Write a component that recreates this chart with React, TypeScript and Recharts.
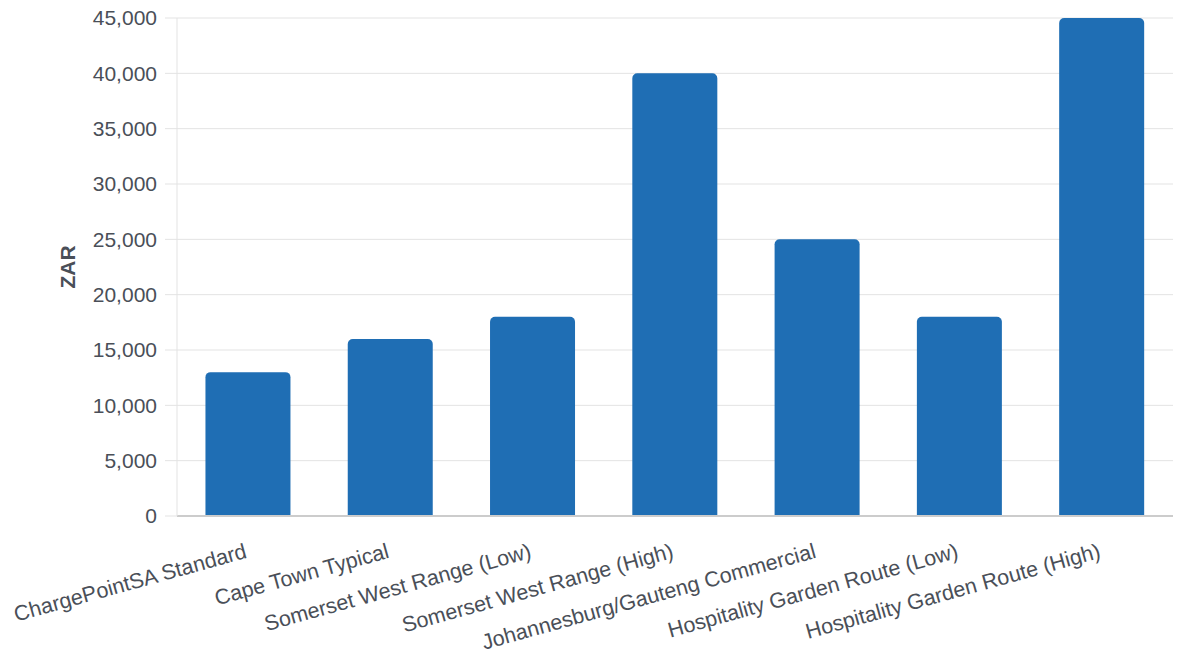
import React from 'react';
import { BarChart, Bar, XAxis, YAxis, CartesianGrid } from 'recharts';

const categories = [
  'ChargePointSA Standard',
  'Cape Town Typical',
  'Somerset West Range (Low)',
  'Somerset West Range (High)',
  'Johannesburg/Gauteng Commercial',
  'Hospitality Garden Route (Low)',
  'Hospitality Garden Route (High)',
];
const values = [13000, 16000, 18000, 40000, 25000, 18000, 45000];
const yTicks = [0, 5000, 10000, 15000, 20000, 25000, 30000, 35000, 40000, 45000];

const data = categories.map((name, i) => ({ name, value: values[i] }));

const FONT = 'Liberation Sans, Arial, sans-serif';
const TEXT = '#4a4f58';

const XTick = (props: any) => {
  const { x, y, payload } = props;
  return (
    <g transform={`translate(${x - 4},${y + 20})`}>
      <text
        x={0}
        y={0}
        dy={14}
        textAnchor="end"
        fill={TEXT}
        fontSize={21.5}
        fontFamily={FONT}
        transform="rotate(-15.5)"
      >
        {payload.value}
      </text>
    </g>
  );
};

export default function App() {
  return (
    <div style={{ position: 'absolute', left: 0, top: 0, width: 1200, height: 667, background: '#fff' }}>
      <BarChart
        width={1200}
        height={667}
        data={data}
        margin={{ top: 18, right: 27, left: 0, bottom: 0 }}
        barCategoryGap="20%"
      >
        <CartesianGrid vertical={false} stroke="#e3e3e3" />
        <XAxis
          dataKey="name"
          height={151}
          interval={0}
          tick={<XTick />}
          tickLine={false}
          axisLine={{ stroke: '#cccccc', strokeWidth: 2 }}
        />
        <YAxis
          width={177}
          domain={[0, 45000]}
          ticks={yTicks}
          tickFormatter={(v: number) => v.toLocaleString('en-US')}
          tick={{ fill: TEXT, fontSize: 21, fontFamily: FONT }}
          tickSize={12}
          tickMargin={8}
          tickLine={{ stroke: '#e3e3e3' }}
          axisLine={{ stroke: '#e3e3e3' }}
          label={{
            value: 'ZAR',
            angle: -90,
            position: 'insideLeft',
            offset: 68,
            style: { fill: TEXT, fontSize: 21, fontWeight: 'bold', fontFamily: FONT, textAnchor: 'middle' },
          }}
        />
        <Bar dataKey="value" fill="#1f6eb4" radius={[5, 5, 0, 0]} isAnimationActive={false} />
      </BarChart>
    </div>
  );
}
